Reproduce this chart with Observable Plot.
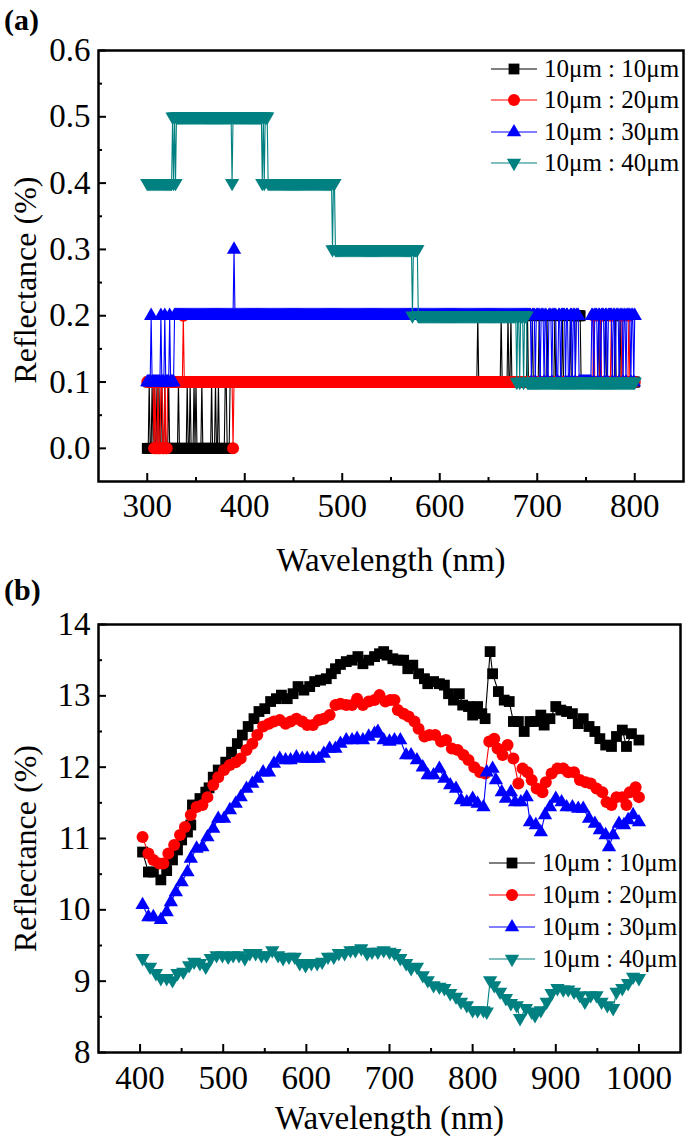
<!DOCTYPE html>
<html>
<head>
<meta charset="utf-8">
<script src="https://cdn.jsdelivr.net/npm/d3@7"></script>
<script src="https://cdn.jsdelivr.net/npm/@observablehq/plot@0.6"></script>
<style>
html, body { margin: 0; padding: 0; background: #fff; }
#wrap { position: relative; width: 685px; height: 1143px; overflow: hidden; font-family: "Liberation Serif", "Times New Roman", serif; }
.panel { position: absolute; left: 0; }
.tag { position: absolute; left: 4px; font-weight: bold; font-size: 30px; line-height: 1; }
#legend { position: absolute; left: 0; top: 0; pointer-events: none; }
</style>
</head>
<body>
<div id="wrap"></div>
<script>
// ---------------- series meta ----------------
const seriesLabels = ["10\u03bcm : 10\u03bcm", "10\u03bcm : 20\u03bcm", "10\u03bcm : 30\u03bcm", "10\u03bcm : 40\u03bcm"];
const seriesColors = ["#000000", "#ff0000", "#0000ff", "#008080"];

// ---------------- panel (a): runs [from nm, to nm, reflectance], 1 nm sampling ----------------
const a10 = [[300,301,0],[302,302,0.1],[303,304,0],[305,305,0.1],[306,306,0],[307,307,0.1],[308,309,0],[310,310,0.1],[311,311,0],[312,312,0.1],[313,314,0],[315,315,0.1],[316,317,0],[318,318,0.1],[319,321,0],[322,322,0.1],[323,331,0],[332,332,0.1],[333,340,0],[341,341,0.1],[342,343,0],[344,344,0.1],[345,347,0],[348,348,0.1],[349,349,0],[350,350,0.1],[351,355,0],[356,356,0.1],[357,365,0],[366,366,0.1],[367,369,0],[370,370,0.1],[371,372,0],[373,373,0.1],[374,379,0],[380,381,0.1],[382,384,0],[385,638,0.1],[639,639,0.2],[640,662,0.1],[663,663,0.2],[664,669,0.1],[670,670,0.2],[671,672,0.1],[673,673,0.2],[674,689,0.1],[690,690,0.2],[691,694,0.1],[695,695,0.2],[696,701,0.1],[702,702,0.2],[703,709,0.1],[710,710,0.2],[711,717,0.1],[718,718,0.2],[719,725,0.1],[726,726,0.2],[727,733,0.1],[734,734,0.2],[735,739,0.1],[740,744,0.2],[745,762,0.1],[763,763,0.2],[764,769,0.1],[770,770,0.2],[771,779,0.1],[780,780,0.2],[781,784,0.1],[785,785,0.2],[786,800,0.1]];
const a20 = [[300,306,0.1],[307,307,0],[308,308,0.1],[309,310,0],[311,311,0.1],[312,313,0],[314,315,0.1],[316,317,0],[318,318,0.1],[319,320,0],[321,336,0.1],[337,337,0.2],[338,387,0.1],[388,388,0],[389,757,0.1],[758,758,0.2],[759,764,0.1],[765,765,0.2],[766,775,0.1],[776,776,0.2],[777,786,0.1],[787,787,0.2],[788,793,0.1],[794,794,0.2],[795,800,0.1]];
const a30 = [[300,303,0.1],[304,304,0.2],[305,313,0.1],[314,314,0.2],[315,317,0.1],[318,318,0.2],[319,322,0.1],[323,323,0.2],[324,327,0.1],[328,388,0.2],[389,389,0.3],[390,693,0.2],[694,694,0.1],[695,697,0.2],[698,698,0.1],[699,702,0.2],[703,703,0.1],[704,706,0.2],[707,707,0.1],[708,709,0.2],[710,711,0.1],[712,714,0.2],[715,715,0.1],[716,719,0.2],[720,721,0.1],[722,723,0.2],[724,724,0.1],[725,728,0.2],[729,729,0.1],[730,731,0.2],[732,733,0.1],[734,735,0.2],[736,736,0.1],[737,738,0.2],[739,739,0.1],[740,742,0.2],[743,755,0.1],[756,757,0.2],[758,758,0.1],[759,761,0.2],[762,762,0.1],[763,764,0.2],[765,765,0.1],[766,768,0.2],[769,769,0.1],[770,771,0.2],[772,772,0.1],[773,776,0.2],[777,777,0.1],[778,779,0.2],[780,780,0.1],[781,783,0.2],[784,784,0.1],[785,787,0.2],[788,788,0.1],[789,790,0.2],[791,791,0.1],[792,795,0.2],[796,796,0.1],[797,798,0.2],[799,799,0.1],[800,800,0.2]];
const a40 = [[300,325,0.4],[326,326,0.5],[327,327,0.4],[328,328,0.5],[329,329,0.4],[330,386,0.5],[387,387,0.4],[388,417,0.5],[418,418,0.4],[419,419,0.5],[420,420,0.4],[421,423,0.5],[424,489,0.4],[490,490,0.3],[491,492,0.4],[493,571,0.3],[572,572,0.2],[573,577,0.3],[578,678,0.2],[679,679,0.1],[680,681,0.2],[682,682,0.1],[683,685,0.2],[686,686,0.1],[687,689,0.2],[690,800,0.1]];

const aXTicks = [300, 400, 500, 600, 700, 800];
const aXMinor = [350, 450, 550, 650, 750];
const aYTicks = [0, 0.1, 0.2, 0.3, 0.4, 0.5, 0.6];
const aYMinor = [0.05, 0.15, 0.25, 0.35, 0.45, 0.55];

// ---------------- panel (b): [wavelength nm, reflectance %] ----------------
const b10 = [[403,10.81],[410,10.53],[416,10.53],[425,10.42],[432,10.55],[439,10.7],[445,10.84],[450,10.98],[457,11.09],[461,11.19],[463,11.47],[472,11.56],[479,11.65],[483,11.71],[488,11.86],[494,11.96],[503,12.07],[510,12.21],[517,12.33],[523,12.45],[530,12.57],[537,12.68],[543,12.78],[550,12.82],[557,12.92],[564,12.96],[570,13.01],[577,12.96],[584,13.03],[590,13.13],[597,13.08],[604,13.13],[610,13.2],[617,13.22],[624,13.24],[630,13.31],[635,13.38],[641,13.44],[648,13.48],[655,13.5],[662,13.55],[668,13.45],[675,13.5],[682,13.55],[688,13.59],[693,13.62],[697,13.57],[704,13.52],[710,13.5],[717,13.5],[722,13.38],[728,13.43],[735,13.31],[742,13.24],[746,13.17],[753,13.2],[760,13.17],[766,13.15],[771,13.03],[777,12.94],[784,13.03],[788,12.87],[795,12.85],[800,12.73],[806,12.85],[811,12.75],[815,12.68],[821,13.62],[824,13.31],[831,13.06],[838,12.94],[844,12.92],[849,12.64],[855,12.64],[862,12.5],[869,12.64],[875,12.64],[882,12.73],[886,12.59],[893,12.68],[900,12.85],[906,12.8],[913,12.78],[920,12.75],[927,12.61],[933,12.68],[940,12.57],[947,12.5],[953,12.4],[960,12.31],[967,12.29],[973,12.43],[980,12.52],[985,12.29],[991,12.47],[1000,12.38]];
const b20 = [[403,11.02],[410,10.79],[416,10.7],[423,10.65],[428,10.65],[434,10.79],[441,10.91],[448,11.05],[454,11.16],[461,11.33],[468,11.44],[475,11.47],[481,11.58],[488,11.75],[494,11.86],[501,11.96],[508,12.03],[515,12.07],[521,12.12],[528,12.24],[535,12.33],[541,12.45],[548,12.57],[555,12.61],[561,12.64],[568,12.66],[575,12.61],[581,12.64],[588,12.68],[595,12.64],[601,12.59],[608,12.59],[615,12.66],[621,12.68],[628,12.73],[635,12.87],[641,12.89],[648,12.87],[655,12.87],[661,12.96],[668,12.87],[675,12.92],[682,12.94],[688,13.01],[695,12.92],[701,12.94],[706,12.94],[710,12.8],[717,12.75],[723,12.71],[730,12.64],[735,12.54],[742,12.43],[748,12.45],[755,12.45],[762,12.36],[768,12.38],[775,12.26],[782,12.24],[789,12.17],[795,12.1],[802,12.0],[809,11.93],[815,11.91],[820,12.36],[826,12.4],[830,12.26],[836,12.17],[842,12.31],[849,12.12],[855,11.77],[860,11.98],[866,11.93],[871,11.82],[877,11.7],[884,11.65],[888,11.79],[895,11.91],[902,11.98],[909,11.98],[915,11.93],[922,11.93],[929,11.82],[936,11.79],[942,11.77],[949,11.7],[956,11.65],[961,11.51],[967,11.47],[973,11.58],[980,11.58],[985,11.47],[989,11.65],[996,11.72],[1000,11.58]];
const b30 = [[403,10.07],[410,9.9],[416,9.9],[425,9.86],[432,9.97],[437,10.11],[443,10.25],[450,10.39],[457,10.53],[461,10.72],[468,10.86],[475,10.88],[481,11.02],[488,11.14],[494,11.28],[501,11.28],[508,11.4],[515,11.49],[521,11.58],[528,11.7],[535,11.77],[541,11.84],[548,11.93],[555,11.93],[561,12.05],[568,12.12],[575,12.1],[581,12.1],[588,12.14],[595,12.12],[601,12.12],[608,12.12],[615,12.12],[621,12.19],[628,12.26],[635,12.26],[641,12.33],[648,12.38],[655,12.38],[661,12.4],[668,12.38],[675,12.43],[682,12.47],[686,12.5],[693,12.38],[700,12.36],[706,12.38],[713,12.38],[720,12.17],[726,12.17],[733,12.1],[740,12.0],[746,11.89],[753,11.89],[760,11.98],[766,11.84],[773,11.75],[780,11.7],[786,11.54],[793,11.51],[800,11.56],[806,11.49],[813,11.44],[817,11.93],[824,11.98],[828,11.82],[835,11.65],[840,11.56],[846,11.65],[851,11.51],[858,11.51],[865,11.58],[869,11.23],[876,11.19],[882,11.09],[887,11.33],[893,11.44],[900,11.56],[907,11.51],[913,11.44],[920,11.44],[927,11.42],[933,11.42],[940,11.28],[947,11.21],[953,11.12],[960,11.05],[964,10.88],[969,11.05],[976,11.21],[982,11.19],[987,11.26],[993,11.33],[1000,11.23]];
const b40 = [[403,9.32],[412,9.2],[419,9.11],[425,9.04],[432,9.04],[439,9.01],[445,9.11],[452,9.13],[459,9.22],[465,9.27],[472,9.25],[479,9.2],[485,9.32],[492,9.36],[499,9.36],[506,9.34],[512,9.36],[519,9.36],[526,9.32],[532,9.39],[539,9.39],[546,9.36],[552,9.36],[559,9.43],[566,9.36],[572,9.32],[579,9.34],[586,9.34],[592,9.25],[599,9.22],[606,9.25],[613,9.25],[619,9.27],[626,9.34],[633,9.34],[639,9.39],[646,9.39],[653,9.43],[659,9.43],[666,9.46],[673,9.39],[679,9.41],[686,9.41],[693,9.43],[700,9.41],[706,9.39],[713,9.32],[720,9.25],[726,9.18],[733,9.2],[740,9.08],[746,9.01],[753,8.94],[760,8.92],[766,8.9],[773,8.83],[780,8.78],[786,8.71],[793,8.66],[800,8.59],[806,8.59],[813,8.59],[817,8.57],[821,9.01],[826,8.94],[833,8.85],[840,8.76],[846,8.69],[853,8.66],[857,8.48],[864,8.62],[871,8.57],[875,8.52],[882,8.59],[889,8.71],[895,8.83],[902,8.9],[909,8.88],[915,8.88],[922,8.85],[929,8.8],[935,8.71],[942,8.8],[949,8.8],[955,8.71],[962,8.66],[969,8.62],[973,8.85],[980,8.9],[987,8.97],[993,9.06],[1000,9.04]];

const bXTicks = [400, 500, 600, 700, 800, 900, 1000];
const bXMinor = [450, 550, 650, 750, 850, 950];
const bYTicks = [8, 9, 10, 11, 12, 13, 14];
const bYMinor = [8.5, 9.5, 10.5, 11.5, 12.5, 13.5];

// ---------------- symbols ----------------
function rOf(size) { return Math.sqrt(size / Math.PI); }
const symSquare = { draw(c, size) { const h = rOf(size); c.moveTo(-h, -h); c.lineTo(h, -h); c.lineTo(h, h); c.lineTo(-h, h); c.closePath(); } };
const symCircle = { draw(c, size) { const r = rOf(size); c.moveTo(r, 0); c.arc(0, 0, r, 0, 2 * Math.PI); c.closePath(); } };
const symTriUp = { draw(c, size) { const r = rOf(size); c.moveTo(0, -1.25 * r); c.lineTo(1.1 * r, 0.65 * r); c.lineTo(-1.1 * r, 0.65 * r); c.closePath(); } };
const symTriDown = { draw(c, size) { const r = rOf(size); c.moveTo(0, 1.25 * r); c.lineTo(1.1 * r, -0.65 * r); c.lineTo(-1.1 * r, -0.65 * r); c.closePath(); } };
const seriesSymbols = [symSquare, symCircle, symTriUp, symTriDown];
const seriesR = [5.4, 6, 6.5, 6.5];

function expandRuns(runs) {
  const pts = [];
  for (const [a, b, v] of runs) for (let x = a; x <= b; x++) pts.push({x, y: v});
  return pts;
}
function fromPairs(p) { return p.map(([x, y]) => ({x, y})); }

const W = 685;
const FONT = "Liberation Serif, Times New Roman, serif";

function makePanel(cfg) {
  const {series, xDomain, yDomain, xMajor, xMinor, yMajor, yMinor, yFormat, height, mt, mb, ml, mr, xTitle, yTitle, xTitleDy, yTitleDx, yTitleDy, xPad, yPad} = cfg;
  const ph = height - mt - mb, pw = W - ml - mr;
  const yPer = (yDomain[1] - yDomain[0]) / ph, xPer = (xDomain[1] - xDomain[0]) / pw;
  const y0 = yDomain[0], x0 = xDomain[0];
  const marks = [];
  series.forEach((pts, i) => {
    marks.push(Plot.line(pts, {x: "x", y: "y", stroke: seriesColors[i], strokeWidth: 1.1}));
    marks.push(Plot.dot(pts, {x: "x", y: "y", symbol: seriesSymbols[i], r: seriesR[i], fill: seriesColors[i], stroke: "none"}));
  });
  // inward ticks
  marks.push(Plot.ruleX(xMajor, {x: d => d, y1: y0, y2: y0 + 8 * yPer, stroke: "black", strokeWidth: 2}));
  marks.push(Plot.ruleX(xMinor, {x: d => d, y1: y0, y2: y0 + 4 * yPer, stroke: "black", strokeWidth: 2}));
  marks.push(Plot.ruleY(yMajor, {y: d => d, x1: x0, x2: x0 + 8 * xPer, stroke: "black", strokeWidth: 2}));
  marks.push(Plot.ruleY(yMinor, {y: d => d, x1: x0, x2: x0 + 4 * xPer, stroke: "black", strokeWidth: 2}));
  marks.push(Plot.frame({stroke: "black", strokeWidth: 2.5}));
  marks.push(Plot.axisX({ticks: xMajor, tickSize: 0, tickPadding: xPad, fontSize: 33, fill: "black", label: null, fontFamily: FONT, tickFormat: d => String(d)}));
  marks.push(Plot.axisY({ticks: yMajor, tickSize: 0, tickPadding: yPad, fontSize: 33, fill: "black", label: null, fontFamily: FONT, tickFormat: yFormat}));
  marks.push(Plot.text([xTitle], {text: d => d, frameAnchor: "bottom", dy: xTitleDy, fontSize: 33, fontFamily: FONT, fill: "black", textAnchor: "middle", lineAnchor: "middle"}));
  marks.push(Plot.text([yTitle], {text: d => d, frameAnchor: "left", dx: yTitleDx, dy: yTitleDy, rotate: -90, fontSize: 32, fontFamily: FONT, fill: "black", textAnchor: "middle", lineAnchor: "middle"}));
  return Plot.plot({
    width: W, height,
    marginTop: mt, marginBottom: mb, marginLeft: ml, marginRight: mr,
    x: {domain: xDomain, axis: null},
    y: {domain: yDomain, axis: null},
    style: {fontFamily: FONT, background: "transparent", overflow: "visible", color: "black"},
    marks
  });
}

const wrap = document.getElementById("wrap");

const A_TOP = 0, A_H = 580;
const plotA = makePanel({
  series: [a10, a20, a30, a40].map(expandRuns),
  xDomain: [250, 850], yDomain: [-0.05, 0.6],
  xMajor: aXTicks, xMinor: aXMinor, yMajor: aYTicks, yMinor: aYMinor,
  yFormat: d3.format(".1f"),
  height: A_H, mt: 50, mb: A_H - 481, ml: 98, mr: 2,
  xTitle: "Wavelength (nm)", yTitle: "Reflectance (%)",
  xTitleDy: 79, yTitleDx: -73, yTitleDy: 14, xPad: 12, yPad: 8
});
plotA.classList.add("panel");
plotA.style.top = A_TOP + "px";
wrap.appendChild(plotA);

const B_TOP = 580, B_H = 563;
const plotB = makePanel({
  series: [b10, b20, b30, b40].map(fromPairs),
  xDomain: [350, 1050], yDomain: [8, 14],
  xMajor: bXTicks, xMinor: bXMinor, yMajor: bYTicks, yMinor: bYMinor,
  yFormat: d => String(d),
  height: B_H, mt: 624 - B_TOP, mb: 1143 - 1052, ml: 98, mr: 5,
  xTitle: "Wavelength (nm)", yTitle: "Reflectance (%)",
  xTitleDy: 66, yTitleDx: -73, yTitleDy: 10, xPad: 13, yPad: 8
});
plotB.classList.add("panel");
plotB.style.top = B_TOP + "px";
wrap.appendChild(plotB);

// panel tags
for (const [t, y] of [["(a)", 5], ["(b)", 575]]) {
  const d = document.createElement("div");
  d.className = "tag"; d.textContent = t; d.style.top = y + "px";
  wrap.appendChild(d);
}

// legends
const leg = d3.select(wrap).append("svg").attr("id", "legend").attr("width", W).attr("height", 1143);
function drawLegend(rowsY, lineX1, lineX2, textX) {
  rowsY.forEach((y, i) => {
    const g = leg.append("g");
    g.append("line").attr("x1", lineX1).attr("x2", lineX2).attr("y1", y).attr("y2", y)
      .attr("stroke", seriesColors[i]).attr("stroke-width", 1.2);
    const size = Math.PI * seriesR[i] * seriesR[i];
    g.append("path").attr("d", d3.symbol(seriesSymbols[i], size)())
      .attr("transform", `translate(${(lineX1 + lineX2) / 2},${y})`).attr("fill", seriesColors[i]);
    g.append("text").attr("x", textX).attr("y", y).attr("dy", "0.33em")
      .attr("font-family", FONT).attr("font-size", 25).attr("fill", "black").text(seriesLabels[i]);
  });
}
drawLegend([69, 100, 132, 163], 491, 537, 544);
drawLegend([863, 895, 927, 959], 489, 535, 542);
</script>
</body>
</html>
